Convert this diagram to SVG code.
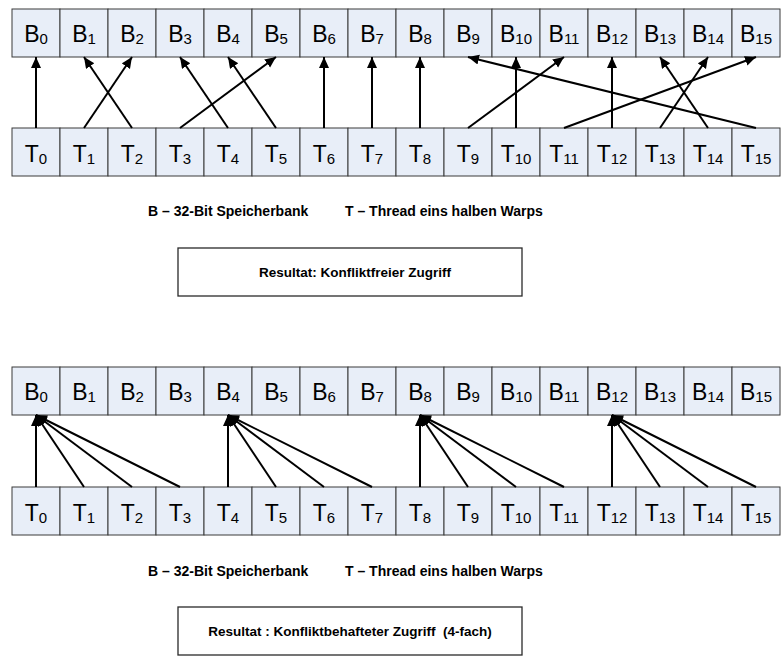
<svg xmlns="http://www.w3.org/2000/svg" width="781" height="657" viewBox="0 0 781 657">
  <style>
    .cell { fill: #e8eef8; stroke: #3a3a3a; stroke-width: 1; }
    .lbl { font-family: "Liberation Sans", Arial, sans-serif; font-size: 23px; fill: #000; text-anchor: middle; }
    .sub { font-size: 15px; }
    .cap { font-family: "Liberation Sans", Arial, sans-serif; font-size: 14px; font-weight: bold; fill: #000; }
    .res { font-family: "Liberation Sans", Arial, sans-serif; font-size: 13.5px; font-weight: bold; fill: #000; text-anchor: middle; }
    .box { fill: #fff; stroke: #2a2a2a; stroke-width: 1.3; }
    .arr { stroke: #000; stroke-width: 2; fill: none; marker-end: url(#head); }
  </style>
  <defs>
    <marker id="head" markerUnits="userSpaceOnUse" markerWidth="12" markerHeight="11" refX="11" refY="5" orient="auto">
      <path d="M0,0 L11,5 L0,10 Z" fill="#000"/>
    </marker>
  </defs>
  <rect width="781" height="657" fill="#fff"/>

  <!-- ===== Section 1: conflict-free access ===== -->
  <g id="banks-1">
    <g id="b1-0"><rect class="cell" x="12" y="9" width="48" height="48"/><text class="lbl" x="36" y="42">B<tspan class="sub" dy="2">0</tspan></text></g>
    <g id="b1-1"><rect class="cell" x="60" y="9" width="48" height="48"/><text class="lbl" x="84" y="42">B<tspan class="sub" dy="2">1</tspan></text></g>
    <g id="b1-2"><rect class="cell" x="108" y="9" width="48" height="48"/><text class="lbl" x="132" y="42">B<tspan class="sub" dy="2">2</tspan></text></g>
    <g id="b1-3"><rect class="cell" x="156" y="9" width="48" height="48"/><text class="lbl" x="180" y="42">B<tspan class="sub" dy="2">3</tspan></text></g>
    <g id="b1-4"><rect class="cell" x="204" y="9" width="48" height="48"/><text class="lbl" x="228" y="42">B<tspan class="sub" dy="2">4</tspan></text></g>
    <g id="b1-5"><rect class="cell" x="252" y="9" width="48" height="48"/><text class="lbl" x="276" y="42">B<tspan class="sub" dy="2">5</tspan></text></g>
    <g id="b1-6"><rect class="cell" x="300" y="9" width="48" height="48"/><text class="lbl" x="324" y="42">B<tspan class="sub" dy="2">6</tspan></text></g>
    <g id="b1-7"><rect class="cell" x="348" y="9" width="48" height="48"/><text class="lbl" x="372" y="42">B<tspan class="sub" dy="2">7</tspan></text></g>
    <g id="b1-8"><rect class="cell" x="396" y="9" width="48" height="48"/><text class="lbl" x="420" y="42">B<tspan class="sub" dy="2">8</tspan></text></g>
    <g id="b1-9"><rect class="cell" x="444" y="9" width="48" height="48"/><text class="lbl" x="468" y="42">B<tspan class="sub" dy="2">9</tspan></text></g>
    <g id="b1-10"><rect class="cell" x="492" y="9" width="48" height="48"/><text class="lbl" x="516" y="42">B<tspan class="sub" dy="2">10</tspan></text></g>
    <g id="b1-11"><rect class="cell" x="540" y="9" width="48" height="48"/><text class="lbl" x="564" y="42">B<tspan class="sub" dy="2">11</tspan></text></g>
    <g id="b1-12"><rect class="cell" x="588" y="9" width="48" height="48"/><text class="lbl" x="612" y="42">B<tspan class="sub" dy="2">12</tspan></text></g>
    <g id="b1-13"><rect class="cell" x="636" y="9" width="48" height="48"/><text class="lbl" x="660" y="42">B<tspan class="sub" dy="2">13</tspan></text></g>
    <g id="b1-14"><rect class="cell" x="684" y="9" width="48" height="48"/><text class="lbl" x="708" y="42">B<tspan class="sub" dy="2">14</tspan></text></g>
    <g id="b1-15"><rect class="cell" x="732" y="9" width="48" height="48"/><text class="lbl" x="756" y="42">B<tspan class="sub" dy="2">15</tspan></text></g>
  </g>

  <g id="threads-1">
    <g id="t1-0"><rect class="cell" x="12" y="128" width="48" height="48"/><text class="lbl" x="36" y="162">T<tspan class="sub" dy="2">0</tspan></text></g>
    <g id="t1-1"><rect class="cell" x="60" y="128" width="48" height="48"/><text class="lbl" x="84" y="162">T<tspan class="sub" dy="2">1</tspan></text></g>
    <g id="t1-2"><rect class="cell" x="108" y="128" width="48" height="48"/><text class="lbl" x="132" y="162">T<tspan class="sub" dy="2">2</tspan></text></g>
    <g id="t1-3"><rect class="cell" x="156" y="128" width="48" height="48"/><text class="lbl" x="180" y="162">T<tspan class="sub" dy="2">3</tspan></text></g>
    <g id="t1-4"><rect class="cell" x="204" y="128" width="48" height="48"/><text class="lbl" x="228" y="162">T<tspan class="sub" dy="2">4</tspan></text></g>
    <g id="t1-5"><rect class="cell" x="252" y="128" width="48" height="48"/><text class="lbl" x="276" y="162">T<tspan class="sub" dy="2">5</tspan></text></g>
    <g id="t1-6"><rect class="cell" x="300" y="128" width="48" height="48"/><text class="lbl" x="324" y="162">T<tspan class="sub" dy="2">6</tspan></text></g>
    <g id="t1-7"><rect class="cell" x="348" y="128" width="48" height="48"/><text class="lbl" x="372" y="162">T<tspan class="sub" dy="2">7</tspan></text></g>
    <g id="t1-8"><rect class="cell" x="396" y="128" width="48" height="48"/><text class="lbl" x="420" y="162">T<tspan class="sub" dy="2">8</tspan></text></g>
    <g id="t1-9"><rect class="cell" x="444" y="128" width="48" height="48"/><text class="lbl" x="468" y="162">T<tspan class="sub" dy="2">9</tspan></text></g>
    <g id="t1-10"><rect class="cell" x="492" y="128" width="48" height="48"/><text class="lbl" x="516" y="162">T<tspan class="sub" dy="2">10</tspan></text></g>
    <g id="t1-11"><rect class="cell" x="540" y="128" width="48" height="48"/><text class="lbl" x="564" y="162">T<tspan class="sub" dy="2">11</tspan></text></g>
    <g id="t1-12"><rect class="cell" x="588" y="128" width="48" height="48"/><text class="lbl" x="612" y="162">T<tspan class="sub" dy="2">12</tspan></text></g>
    <g id="t1-13"><rect class="cell" x="636" y="128" width="48" height="48"/><text class="lbl" x="660" y="162">T<tspan class="sub" dy="2">13</tspan></text></g>
    <g id="t1-14"><rect class="cell" x="684" y="128" width="48" height="48"/><text class="lbl" x="708" y="162">T<tspan class="sub" dy="2">14</tspan></text></g>
    <g id="t1-15"><rect class="cell" x="732" y="128" width="48" height="48"/><text class="lbl" x="756" y="162">T<tspan class="sub" dy="2">15</tspan></text></g>
  </g>

  <!-- thread -> bank mapping (permutation) -->
  <g id="connectors-1">
    <line class="arr" x1="36" y1="128" x2="36" y2="57"/>
    <line class="arr" x1="84" y1="128" x2="132" y2="57"/>
    <line class="arr" x1="132" y1="128" x2="84" y2="57"/>
    <line class="arr" x1="180" y1="128" x2="276" y2="57"/>
    <line class="arr" x1="228" y1="128" x2="180" y2="57"/>
    <line class="arr" x1="276" y1="128" x2="228" y2="57"/>
    <line class="arr" x1="324" y1="128" x2="324" y2="57"/>
    <line class="arr" x1="372" y1="128" x2="372" y2="57"/>
    <line class="arr" x1="420" y1="128" x2="420" y2="57"/>
    <line class="arr" x1="468" y1="128" x2="564" y2="57"/>
    <line class="arr" x1="516" y1="128" x2="516" y2="57"/>
    <line class="arr" x1="564" y1="128" x2="756" y2="57"/>
    <line class="arr" x1="612" y1="128" x2="612" y2="57"/>
    <line class="arr" x1="660" y1="128" x2="708" y2="57"/>
    <line class="arr" x1="708" y1="128" x2="660" y2="57"/>
    <line class="arr" x1="756" y1="128" x2="468" y2="57"/>
  </g>

  <g id="legend-1">
    <text class="cap" x="148" y="216">B – 32-Bit Speicherbank</text>
    <text class="cap" x="345" y="216">T – Thread eins halben Warps</text>
  </g>
  <g id="result-1">
    <rect class="box" x="178" y="248" width="344" height="48"/>
    <text class="res" x="355" y="277">Resultat: Konfliktfreier Zugriff</text>
  </g>

  <!-- ===== Section 2: 4-way bank conflict ===== -->
  <g id="banks-2">
    <g id="b2-0"><rect class="cell" x="12" y="367" width="48" height="48"/><text class="lbl" x="36" y="400">B<tspan class="sub" dy="2">0</tspan></text></g>
    <g id="b2-1"><rect class="cell" x="60" y="367" width="48" height="48"/><text class="lbl" x="84" y="400">B<tspan class="sub" dy="2">1</tspan></text></g>
    <g id="b2-2"><rect class="cell" x="108" y="367" width="48" height="48"/><text class="lbl" x="132" y="400">B<tspan class="sub" dy="2">2</tspan></text></g>
    <g id="b2-3"><rect class="cell" x="156" y="367" width="48" height="48"/><text class="lbl" x="180" y="400">B<tspan class="sub" dy="2">3</tspan></text></g>
    <g id="b2-4"><rect class="cell" x="204" y="367" width="48" height="48"/><text class="lbl" x="228" y="400">B<tspan class="sub" dy="2">4</tspan></text></g>
    <g id="b2-5"><rect class="cell" x="252" y="367" width="48" height="48"/><text class="lbl" x="276" y="400">B<tspan class="sub" dy="2">5</tspan></text></g>
    <g id="b2-6"><rect class="cell" x="300" y="367" width="48" height="48"/><text class="lbl" x="324" y="400">B<tspan class="sub" dy="2">6</tspan></text></g>
    <g id="b2-7"><rect class="cell" x="348" y="367" width="48" height="48"/><text class="lbl" x="372" y="400">B<tspan class="sub" dy="2">7</tspan></text></g>
    <g id="b2-8"><rect class="cell" x="396" y="367" width="48" height="48"/><text class="lbl" x="420" y="400">B<tspan class="sub" dy="2">8</tspan></text></g>
    <g id="b2-9"><rect class="cell" x="444" y="367" width="48" height="48"/><text class="lbl" x="468" y="400">B<tspan class="sub" dy="2">9</tspan></text></g>
    <g id="b2-10"><rect class="cell" x="492" y="367" width="48" height="48"/><text class="lbl" x="516" y="400">B<tspan class="sub" dy="2">10</tspan></text></g>
    <g id="b2-11"><rect class="cell" x="540" y="367" width="48" height="48"/><text class="lbl" x="564" y="400">B<tspan class="sub" dy="2">11</tspan></text></g>
    <g id="b2-12"><rect class="cell" x="588" y="367" width="48" height="48"/><text class="lbl" x="612" y="400">B<tspan class="sub" dy="2">12</tspan></text></g>
    <g id="b2-13"><rect class="cell" x="636" y="367" width="48" height="48"/><text class="lbl" x="660" y="400">B<tspan class="sub" dy="2">13</tspan></text></g>
    <g id="b2-14"><rect class="cell" x="684" y="367" width="48" height="48"/><text class="lbl" x="708" y="400">B<tspan class="sub" dy="2">14</tspan></text></g>
    <g id="b2-15"><rect class="cell" x="732" y="367" width="48" height="48"/><text class="lbl" x="756" y="400">B<tspan class="sub" dy="2">15</tspan></text></g>
  </g>

  <g id="threads-2">
    <g id="t2-0"><rect class="cell" x="12" y="487" width="48" height="48"/><text class="lbl" x="36" y="521">T<tspan class="sub" dy="2">0</tspan></text></g>
    <g id="t2-1"><rect class="cell" x="60" y="487" width="48" height="48"/><text class="lbl" x="84" y="521">T<tspan class="sub" dy="2">1</tspan></text></g>
    <g id="t2-2"><rect class="cell" x="108" y="487" width="48" height="48"/><text class="lbl" x="132" y="521">T<tspan class="sub" dy="2">2</tspan></text></g>
    <g id="t2-3"><rect class="cell" x="156" y="487" width="48" height="48"/><text class="lbl" x="180" y="521">T<tspan class="sub" dy="2">3</tspan></text></g>
    <g id="t2-4"><rect class="cell" x="204" y="487" width="48" height="48"/><text class="lbl" x="228" y="521">T<tspan class="sub" dy="2">4</tspan></text></g>
    <g id="t2-5"><rect class="cell" x="252" y="487" width="48" height="48"/><text class="lbl" x="276" y="521">T<tspan class="sub" dy="2">5</tspan></text></g>
    <g id="t2-6"><rect class="cell" x="300" y="487" width="48" height="48"/><text class="lbl" x="324" y="521">T<tspan class="sub" dy="2">6</tspan></text></g>
    <g id="t2-7"><rect class="cell" x="348" y="487" width="48" height="48"/><text class="lbl" x="372" y="521">T<tspan class="sub" dy="2">7</tspan></text></g>
    <g id="t2-8"><rect class="cell" x="396" y="487" width="48" height="48"/><text class="lbl" x="420" y="521">T<tspan class="sub" dy="2">8</tspan></text></g>
    <g id="t2-9"><rect class="cell" x="444" y="487" width="48" height="48"/><text class="lbl" x="468" y="521">T<tspan class="sub" dy="2">9</tspan></text></g>
    <g id="t2-10"><rect class="cell" x="492" y="487" width="48" height="48"/><text class="lbl" x="516" y="521">T<tspan class="sub" dy="2">10</tspan></text></g>
    <g id="t2-11"><rect class="cell" x="540" y="487" width="48" height="48"/><text class="lbl" x="564" y="521">T<tspan class="sub" dy="2">11</tspan></text></g>
    <g id="t2-12"><rect class="cell" x="588" y="487" width="48" height="48"/><text class="lbl" x="612" y="521">T<tspan class="sub" dy="2">12</tspan></text></g>
    <g id="t2-13"><rect class="cell" x="636" y="487" width="48" height="48"/><text class="lbl" x="660" y="521">T<tspan class="sub" dy="2">13</tspan></text></g>
    <g id="t2-14"><rect class="cell" x="684" y="487" width="48" height="48"/><text class="lbl" x="708" y="521">T<tspan class="sub" dy="2">14</tspan></text></g>
    <g id="t2-15"><rect class="cell" x="732" y="487" width="48" height="48"/><text class="lbl" x="756" y="521">T<tspan class="sub" dy="2">15</tspan></text></g>
  </g>

  <!-- four threads share each of banks 0, 4, 8, 12 -->
  <g id="connectors-2">
    <line class="arr" x1="36" y1="487" x2="36" y2="415"/>
    <line class="arr" x1="84" y1="487" x2="36" y2="415"/>
    <line class="arr" x1="132" y1="487" x2="36" y2="415"/>
    <line class="arr" x1="180" y1="487" x2="36" y2="415"/>
    <line class="arr" x1="228" y1="487" x2="228" y2="415"/>
    <line class="arr" x1="276" y1="487" x2="228" y2="415"/>
    <line class="arr" x1="324" y1="487" x2="228" y2="415"/>
    <line class="arr" x1="372" y1="487" x2="228" y2="415"/>
    <line class="arr" x1="420" y1="487" x2="420" y2="415"/>
    <line class="arr" x1="468" y1="487" x2="420" y2="415"/>
    <line class="arr" x1="516" y1="487" x2="420" y2="415"/>
    <line class="arr" x1="564" y1="487" x2="420" y2="415"/>
    <line class="arr" x1="612" y1="487" x2="612" y2="415"/>
    <line class="arr" x1="660" y1="487" x2="612" y2="415"/>
    <line class="arr" x1="708" y1="487" x2="612" y2="415"/>
    <line class="arr" x1="756" y1="487" x2="612" y2="415"/>
  </g>

  <g id="legend-2">
    <text class="cap" x="148" y="576">B – 32-Bit Speicherbank</text>
    <text class="cap" x="345" y="576">T – Thread eins halben Warps</text>
  </g>
  <g id="result-2">
    <rect class="box" x="178" y="607" width="344" height="48"/>
    <text class="res" x="350" y="636" xml:space="preserve">Resultat : Konfliktbehafteter Zugriff  (4-fach)</text>
  </g>
</svg>
